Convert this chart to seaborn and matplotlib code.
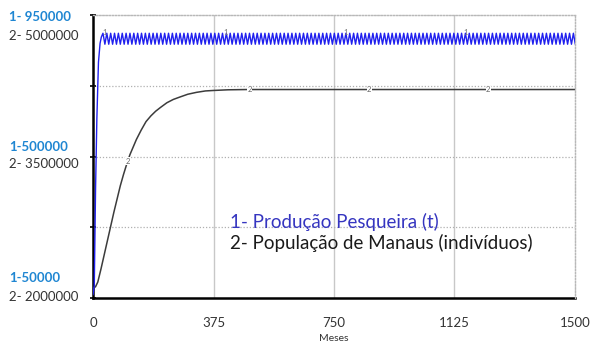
import numpy as np
import pandas as pd
import matplotlib
matplotlib.use("Agg")
import matplotlib.pyplot as plt
import seaborn as sns

# ---------------- data ----------------
# 2- Populacao de Manaus (individuos)
pop_months = [0, 8, 15, 25, 35, 45, 55, 65, 75, 85, 95, 105, 115, 125, 135, 150, 165, 180,
              195, 210, 230, 250, 270, 295, 322, 350, 375, 420, 480, 600, 900, 1200, 1500]
pop_values = [2100000, 2120000, 2170000, 2310000, 2460000, 2610000, 2760000, 2910000, 3050000,
              3190000, 3310000, 3420000, 3520000, 3600000, 3680000, 3780000, 3870000, 3930000,
              3980000, 4020000, 4070000, 4105000, 4130000, 4160000, 4180000, 4195000, 4200000,
              4207000, 4210000, 4210000, 4210000, 4210000, 4210000]

# 1- Producao Pesqueira (t): initial rise
fish_rise_months = [0, 4, 8, 12, 17, 22, 26]
fish_rise_values_k = [60, 90, 400, 620, 800, 860, 880]
# 1- Producao Pesqueira (t): seasonal oscillation, peaks/troughs every half cycle (thousand t)
fish_osc_months = list(range(31, 1507, 6))
fish_osc_values_k = [
    892, 857, 892, 857, 892, 857, 892, 857, 892, 857, 892, 857, 892, 857, 892, 857, 892, 857, 892, 857,
    892, 857, 892, 857, 892, 857, 892, 857, 892, 857, 892, 857, 892, 857, 892, 857, 892, 857, 892, 857,
    892, 857, 892, 857, 892, 857, 892, 857, 892, 857, 892, 857, 892, 857, 892, 857, 892, 857, 892, 857,
    892, 857, 892, 857, 892, 857, 892, 857, 892, 857, 892, 857, 892, 857, 892, 857, 892, 857, 892, 857,
    892, 857, 892, 857, 892, 857, 892, 857, 892, 857, 892, 857, 892, 857, 892, 857, 892, 857, 892, 857,
    892, 857, 892, 857, 892, 857, 892, 857, 892, 857, 892, 857, 892, 857, 892, 857, 892, 857, 892, 857,
    892, 857, 892, 857, 892, 857, 892, 857, 892, 857, 892, 857, 892, 857, 892, 857, 892, 857, 892, 857,
    892, 857, 892, 857, 892, 857, 892, 857, 892, 857, 892, 857, 892, 857, 892, 857, 892, 857, 892, 857,
    892, 857, 892, 857, 892, 857, 892, 857, 892, 857, 892, 857, 892, 857, 892, 857, 892, 857, 892, 857,
    892, 857, 892, 857, 892, 857, 892, 857, 892, 857, 892, 857, 892, 857, 892, 857, 892, 857, 892, 857,
    892, 857, 892, 857, 892, 857, 892, 857, 892, 857, 892, 857, 892, 857, 892, 857, 892, 857, 892, 857,
    892, 857, 892, 857, 892, 857, 892, 857, 892, 857, 892, 857, 892, 857, 892, 857, 892, 857, 892, 857,
    892, 857, 892, 857, 892, 857,
]

x_ticks = [0, 375, 750, 1125, 1500]
pop_ticks = [2000000, 2750000, 3500000, 4250000, 5000000]
fish_labels = ["1-50000", "1-500000", "1- 950000"]
pop_labels = ["2- 2000000", "2- 3500000", "2- 5000000"]
label_levels = [2000000, 3500000, 5000000]
marker1_months = [37, 412, 787, 1159]
marker2_months = [108, 487, 859, 1230]
legend_1 = "1- Produção Pesqueira (t)"
legend_2 = "2- População de Manaus (indivíduos)"
x_label = "Meses"

# ---------------- build frames ----------------
n = min(len(fish_osc_months), len(fish_osc_values_k))
fish_df = pd.DataFrame({
    "mes": fish_rise_months + fish_osc_months[:n],
    "valor": [v * 1000 for v in fish_rise_values_k + fish_osc_values_k[:n]],
})
pop_df = pd.DataFrame({"mes": pop_months, "valor": pop_values})

# ---------------- style ----------------
sns.set_style("white")
plt.rcParams["font.family"] = ["Lato", "DejaVu Sans"]

fig = plt.figure(figsize=(6.03, 3.49), dpi=100)
ax = fig.add_axes([93 / 603, 51 / 349, (575 - 93) / 603, (298 - 15) / 349])
ax2 = ax.twinx()

sns.lineplot(data=pop_df, x="mes", y="valor", ax=ax, color="#3c3c3c", linewidth=1.1, zorder=3)
sns.lineplot(data=fish_df, x="mes", y="valor", ax=ax2, color="#2020ee", linewidth=1.0, zorder=3)

ax.set_xlim(0, 1500)
ax.set_ylim(2000000, 5000000)
ax2.set_ylim(50000, 950000)

# grid
for xv in x_ticks[1:-1]:
    ax.axvline(xv, color="#c8c8c8", linewidth=1.0, zorder=1)
for yv in pop_ticks[1:-1]:
    ax.axhline(yv, color="#b0b0b0", linewidth=0.9, linestyle=(0, (1, 1.5)), zorder=1)

# spines
for a in (ax, ax2):
    for s in ("top", "right"):
        a.spines[s].set_color("#b8b8b8")
        a.spines[s].set_linestyle((0, (1, 1.5)))
        a.spines[s].set_linewidth(0.9)
ax2.spines["left"].set_visible(False)
ax2.spines["bottom"].set_visible(False)
ax.spines["left"].set_color("black")
ax.spines["left"].set_linewidth(1.8)
ax.spines["bottom"].set_color("black")
ax.spines["bottom"].set_linewidth(1.8)

ax2.set_yticks([])
ax2.set_ylabel("")

ax.set_xticks(x_ticks)
ax.set_xticklabels([str(v) for v in x_ticks])
ax.set_yticks(pop_ticks)
ax.set_yticklabels([])
ax.tick_params(axis="x", direction="inout", length=6, width=1.5, color="black",
               pad=11, labelsize=9.5, labelcolor="#333333")
ax.tick_params(axis="y", direction="inout", length=5, width=1.2, color="black")
ax.set_ylabel("")
ax.set_xlabel(x_label, fontsize=7.5, color="#333333", labelpad=3)

# y labels (two series sharing the left axis)
fish_offsets = [20, 9, -2]
pop_offsets = [1, -8, -21]
for lvl, ft, pt, fo, po in zip(label_levels, fish_labels, pop_labels, fish_offsets, pop_offsets):
    ax.annotate(ft, xy=(9 / 603, lvl), xycoords=("figure fraction", "data"),
                xytext=(0, fo), textcoords="offset pixels", ha="left", va="center",
                fontsize=9.5, color="#1f86d2", fontweight="bold", annotation_clip=False)
    ax.annotate(pt, xy=(9 / 603, lvl), xycoords=("figure fraction", "data"),
                xytext=(0, po), textcoords="offset pixels", ha="left", va="center",
                fontsize=9.5, color="#333333", annotation_clip=False)

# line number markers
for m in marker1_months:
    ax2.text(m, 893000, "1", fontsize=5.5, color="#777777", ha="center", va="center", zorder=4)
for m in marker2_months:
    yv = np.interp(m, pop_months, pop_values)
    ax.text(m, yv, "2", fontsize=5.5, color="#666666", ha="center", va="center", zorder=4,
            bbox=dict(facecolor="white", edgecolor="none", pad=0.2))

# legend text
fig.text(230 / 603, 1 - 222 / 349, legend_1, fontsize=13.5, color="#3535c0", ha="left", va="center")
fig.text(230 / 603, 1 - 243 / 349, legend_2, fontsize=13.5, color="#1a1a1a", ha="left", va="center")

fig.savefig("out.png", dpi=100)
